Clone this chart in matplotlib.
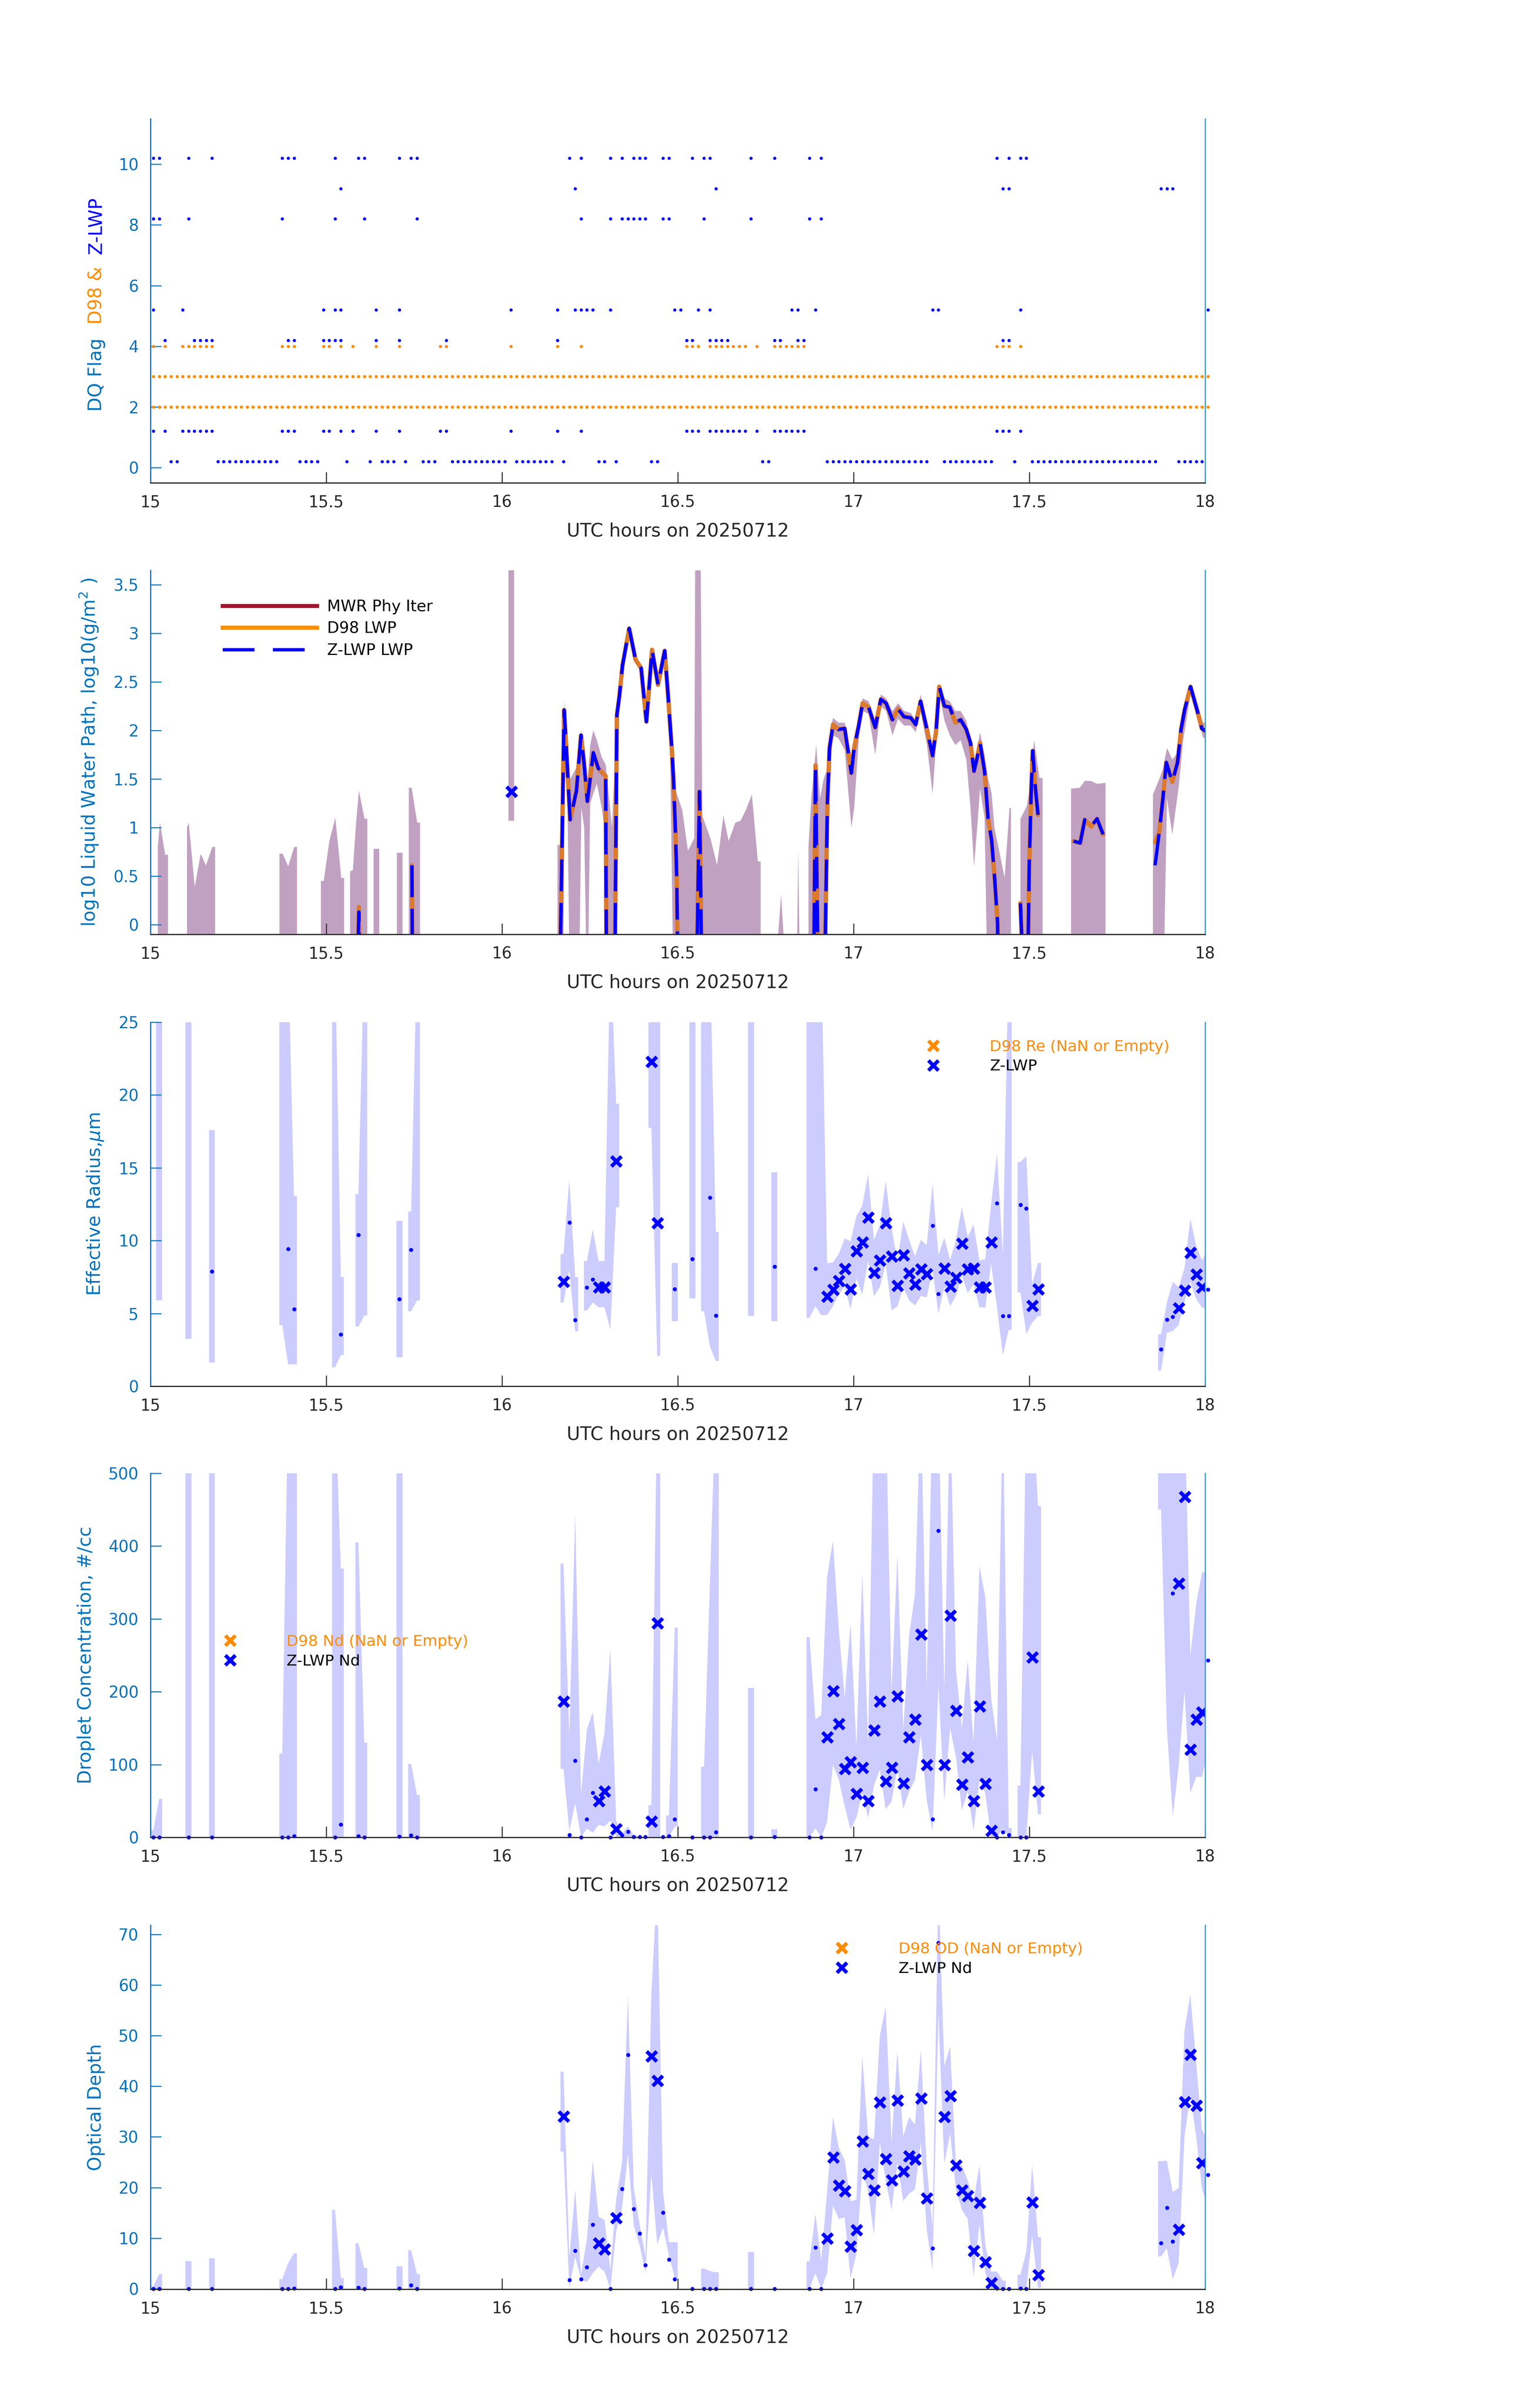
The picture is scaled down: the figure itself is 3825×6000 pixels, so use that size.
import numpy as np
import matplotlib
matplotlib.use("Agg")
import matplotlib.pyplot as plt
from matplotlib.lines import Line2D
from matplotlib.ticker import FuncFormatter

plt.rcParams['font.family'] = ['DejaVu Sans']

nan = np.nan
AXBLUE = '#0072BD'
ORANGE = '#FF8C00'
BLUE = '#0000FF'
DARK = '#262626'

# ---------------- panel 1 : DQ flags (minute index i -> 15 + (i+0.5)/60 h)
n_minutes = 181
zlwp_flag10 = [0, 1, 6, 10, 22, 23, 24, 31, 35, 36, 42, 44, 45, 71, 73, 78, 80, 82, 83, 84,
               87, 88, 92, 94, 95, 102, 106, 112, 114, 144, 146, 148, 149]
zlwp_flag9 = [32, 72, 96, 145, 146, 172, 173, 174]
zlwp_flag8 = [0, 1, 6, 22, 31, 36, 45, 73, 78, 80, 81, 82, 83, 84, 87, 88, 94, 102, 112, 114]
zlwp_flag5 = [0, 5, 29, 31, 32, 38, 42, 61, 69, 72, 73, 74, 75, 78, 89, 90, 93, 95, 109, 110,
              113, 133, 134, 148, 180]
zlwp_flag4 = [2, 7, 8, 9, 10, 23, 24, 29, 30, 31, 32, 38, 42, 50, 69, 91, 92, 95, 96, 97, 98,
              106, 107, 110, 111, 145, 146]
zlwp_flag1 = [0, 2, 5, 6, 7, 8, 9, 10, 22, 23, 24, 29, 30, 32, 34, 38, 42, 49, 50, 61, 69, 73,
              91, 92, 93, 95, 96, 97, 98, 99, 100, 101, 103, 106, 107, 108, 109, 110, 111, 144,
              145, 146, 148]
zlwp_flag0 = [3, 4, 11, 12, 13, 14, 15, 16, 17, 18, 19, 20, 21, 25, 26, 27, 28, 33, 37, 39, 40,
              41, 43, 46, 47, 48, 51, 52, 53, 54, 55, 56, 57, 58, 59, 60, 62, 63, 64, 65, 66, 67,
              68, 70, 76, 77, 79, 85, 86, 104, 105, 115, 116, 117, 118, 119, 120, 121, 122, 123,
              124, 125, 126, 127, 128, 129, 130, 131, 132, 135, 136, 137, 138, 139, 140, 141, 142,
              143, 147, 150, 151, 152, 153, 154, 155, 156, 157, 158, 159, 160, 161, 162, 163, 164,
              165, 166, 167, 168, 169, 170, 171, 175, 176, 177, 178, 179]
d98_flag4 = [0, 2, 5, 6, 7, 8, 9, 10, 22, 23, 24, 29, 30, 32, 34, 38, 42, 49, 50, 61, 69, 73,
             91, 92, 93, 95, 96, 97, 98, 99, 100, 101, 103, 106, 107, 108, 109, 110, 111, 144,
             145, 146, 148]
d98_always = [2, 3]   # flags set at every minute

# ---------------- panel 2 : LWP (hours, log10 g/m2); -1 = below axis
lwp_band_t = [15.021, 15.027, 15.042, 15.050, nan,
              15.104, 15.109, 15.126, 15.143, 15.158, 15.176, 15.184, nan,
              15.367, 15.376, 15.392, 15.409, 15.417, nan,
              15.485, 15.493, 15.509, 15.526, 15.543, 15.551, nan,
              15.568, 15.576, 15.584, 15.593, 15.609, 15.617, nan,
              15.635, 15.651, nan,
              15.701, 15.717, nan,
              15.735, 15.743, 15.759, 15.767, nan,
              16.019, 16.035, nan,
              16.158, 16.167, 16.174, 16.178, 16.186, 16.194, 16.202, 16.212, 16.218, 16.226,
              16.234, 16.243, 16.251, 16.260, 16.270, 16.284, 16.295, 16.305, 16.313, 16.320,
              16.327, nan,
              16.478, 16.489, 16.513, 16.529, 16.547, 16.550, 16.565, 16.570, 16.593, 16.612,
              16.630, 16.645, 16.664, 16.679, 16.694, 16.711, 16.728, 16.736, nan,
              16.786, 16.794, 16.801, nan,
              16.840, 16.843, 16.846, nan,
              16.872, 16.880, 16.894, 16.905, 16.915, 16.926, 16.932, 16.942, 16.957, 16.975,
              16.994, 17.002, 17.015, 17.026, 17.043, 17.062, 17.078, 17.093, 17.111, 17.127,
              17.144, 17.163, 17.177, 17.191, 17.209, 17.225, 17.235, 17.244, 17.259, 17.274,
              17.290, 17.305, 17.321, 17.333, 17.343, 17.352, 17.360, 17.373, 17.383, 17.393,
              17.401, 17.415, 17.430, 17.444, 17.448, nan,
              17.475, 17.493, 17.503, 17.514, 17.529, 17.538, nan,
              17.619, 17.644, 17.658, 17.675, 17.693, 17.717, nan,
              17.852, 17.870, 17.880, 17.892, 17.907, 17.926, 17.938, 17.960, 17.981, 17.994,
              18.006]
lwp_band_lo = [-1, -1, -1, -1, nan,
               -1, -1, -1, -1, -1, -1, -1, nan,
               -1, -1, -1, -1, -1, nan,
               -1, -1, -1, -1, -1, -1, nan,
               -1, -1, -1, -1, -1, -1, nan,
               -1, -1, nan,
               -1, -1, nan,
               -1, -1, -1, -1, nan,
               1.07, 1.07, nan,
               -1, -1, -1, 1.8, 1.4, -1, -1, -1, -1, 1.2,
               1.0, -1, 1.25, 1.35, 1.45, 1.2, 0.9, -1, -1, -1,
               2.1, nan,
               1.9, -1, -1, -1, -1, -1, -1, -1, -1, -1,
               -1, -1, -1, -1, -1, -1, -1, -1, nan,
               -1, -1, -1, nan,
               -1, -1, -1, nan,
               -1, -1, -1, -1, -1, 0.9, 1.6, 1.95, 1.92, 1.8,
               1.0, 1.2, 1.9, 2.2, 2.17, 1.75, 2.25, 2.2, 1.95, 2.12,
               2.05, 2.05, 1.98, 2.2, 1.85, 1.35, 1.85, 2.38, 2.1, 1.95,
               1.85, 1.9, 1.7, 1.2, 0.6, 1.0, 1.4, 1.1, -1, -1,
               -1, -1, -1, -1, -1, nan,
               -1, -1, -1, -1, -1, -1, nan,
               -1, -1, -1, -1, -1, -1, nan,
               -1, -1, -1, 1.3, 0.93, 1.44, 1.9, 2.40, 2.12, 1.93,
               1.90]
lwp_band_hi = [0.80, 1.05, 0.72, 0.72, nan,
               1.0, 1.05, 0.39, 0.73, 0.61, 0.80, 0.80, nan,
               0.73, 0.73, 0.60, 0.80, 0.80, nan,
               0.45, 0.45, 0.86, 1.10, 0.48, 0.48, nan,
               0.55, 0.56, 1.0, 1.38, 1.09, 1.09, nan,
               0.78, 0.78, nan,
               0.74, 0.74, nan,
               1.41, 1.41, 1.05, 1.05, nan,
               4.0, 4.0, nan,
               0.82, 0.82, 1.6, 2.3, 1.8, 1.5, 1.55, 1.62, 1.75, 2.0,
               1.7, 1.45, 1.85, 2.0, 1.9, 1.72, 1.65, 1.3, 1.0, 1.6,
               2.2, nan,
               2.1, 1.44, 1.18, 0.76, 0.89, 4.0, 4.0, 1.12, 0.89, 0.61,
               1.12, 0.86, 1.05, 1.07, 1.18, 1.34, 0.65, 0.65, nan,
               -0.1, 0.31, -0.1, nan,
               -0.1, 0.78, -0.1, nan,
               0.8, 1.3, 1.85, 1.3, 1.5, 1.6, 1.95, 2.13, 2.08, 2.08,
               1.75, 1.9, 2.12, 2.33, 2.3, 2.1, 2.37, 2.33, 2.2, 2.28,
               2.2, 2.18, 2.1, 2.37, 2.07, 1.8, 2.05, 2.48, 2.33, 2.3,
               2.2, 2.2, 2.1, 1.9, 1.65, 1.8, 1.98, 1.75, 1.5, 1.35,
               1.0, 0.75, 0.48, 1.2, 1.2, nan,
               1.09, 1.22, 1.45, 1.90, 1.51, 1.51, nan,
               1.40, 1.41, 1.48, 1.48, 1.45, 1.46, nan,
               1.34, 1.5, 1.6, 1.82, 1.70, 1.79, 2.08, 2.48, 2.25, 2.08,
               2.08]

zlwp_t = [15.586, 15.593, 15.598, nan,
          15.744, 15.746, nan,
          16.163, 16.177, 16.184, 16.194, 16.202, 16.212, 16.225, 16.234, 16.243, 16.251,
          16.260, 16.274, 16.284, 16.295, 16.298, nan,
          16.320, 16.327, 16.334, 16.343, 16.362, 16.380, 16.396, 16.411, 16.427, 16.444,
          16.463, 16.473, 16.483, 16.488, 16.494, 16.4975, 16.502, nan,
          16.552, 16.562, 16.570, nan,
          16.886, 16.892, 16.901, nan,
          16.916, 16.926, 16.932, 16.942, 16.957, 16.975, 16.994, 17.002, 17.015, 17.026,
          17.043, 17.062, 17.078, 17.093, 17.111, 17.127, 17.144, 17.163, 17.177, 17.191,
          17.209, 17.225, 17.235, 17.244, 17.259, 17.274, 17.290, 17.305, 17.321, 17.333,
          17.343, 17.352, 17.360, 17.373, 17.383, 17.393, 17.401, 17.410, 17.414, nan,
          17.475, 17.488, nan,
          17.494, 17.500, 17.506, 17.510, 17.516, 17.525, nan,
          17.626, 17.645, 17.658, 17.676, 17.693, 17.710, nan,
          17.858, 17.870, 17.880, 17.890, 17.907, 17.922, 17.932, 17.942, 17.959, 17.979,
          17.991, 18.006]
zlwp_lwp = [-1, 0.13, -1, nan,
            0.61, -1, nan,
            -1, 2.21, 1.76, 1.08, 1.21, 1.38, 1.95, 1.64, 1.27, 1.50,
            1.77, 1.61, 1.57, 1.53, -1, nan,
            -1, 2.16, 2.35, 2.67, 3.05, 2.73, 2.64, 2.09, 2.83, 2.47,
            2.82, 2.34, 1.82, 1.50, 0.92, 0.45, -1, nan,
            -1, 1.37, -1, nan,
            -1, 1.64, -1, nan,
            -1, 1.27, 1.82, 2.06, 2.01, 2.02, 1.56, 1.82, 2.05, 2.28,
            2.24, 2.03, 2.32, 2.28, 2.11, 2.22, 2.14, 2.13, 2.06, 2.30,
            2.01, 1.74, 1.99, 2.45, 2.25, 2.24, 2.08, 2.11, 2.01, 1.87,
            1.58, 1.72, 1.87, 1.58, 1.09, 0.87, 0.51, 0.02, -1, nan,
            0.22, -1, nan,
            -1, 0.60, 1.41, 1.79, 1.47, 1.13, nan,
            0.86, 0.84, 1.08, 1.01, 1.09, 0.93, nan,
            0.61, 0.95, 1.29, 1.67, 1.47, 1.67, 2.01, 2.21, 2.45, 2.19,
            2.02, 1.98]
d98_lwp = [-1, 0.18, -1, nan,
           0.61, -1, nan,
           -1, 2.21, 1.76, 1.08, 1.21, 1.38, 1.95, 1.66, 1.27, 1.50,
           1.77, 1.61, 1.57, 1.53, -1, nan,
           -1, 2.16, 2.35, 2.67, 3.05, 2.73, 2.64, 2.09, 2.83, 2.47,
           2.82, 2.34, 1.82, 1.50, 0.92, 0.45, -1, nan,
           -1, 1.37, -1, nan,
           -1, 1.64, -1, nan,
           -1, 1.27, 1.82, 2.06, 2.01, 2.02, 1.56, 1.82, 2.05, 2.28,
           2.24, 2.03, 2.32, 2.28, 2.11, 2.22, 2.14, 2.13, 2.06, 2.30,
           2.01, 1.74, 1.99, 2.45, 2.25, 2.24, 2.08, 2.11, 2.01, 1.87,
           1.58, 1.72, 1.87, 1.58, 1.09, 0.87, 0.51, 0.02, -1, nan,
           0.22, -1, nan,
           -1, 0.60, 1.41, 1.79, 1.47, 1.13, nan,
           0.86, 0.84, 1.08, 1.01, 1.09, 0.93, nan,
           0.85, 0.95, 1.29, 1.67, 1.47, 1.67, 2.01, 2.21, 2.45, 2.19,
           2.02, 1.98]
zlwp_single_t = [16.027]
zlwp_single_lwp = [1.37]

# ---------------- panels 3-5 : retrievals at minute index
good_idx = [70, 76, 77, 79, 85, 86, 115, 116, 117, 118, 119, 120, 121, 122, 123, 124, 125, 126,
            127, 128, 129, 130, 131, 132, 135, 136, 137, 138, 139, 140, 141, 142, 143, 150, 151,
            175, 176, 177, 178, 179]

re_good = [7.21, 6.81, 6.81, 15.46, 22.3, 11.22, 6.18, 6.65, 7.25, 8.08, 6.67, 9.28, 9.89, 11.61,
           7.80, 8.67, 11.22, 8.93, 6.91, 9.02, 7.78, 7.01, 8.06, 7.72, 8.12, 6.87, 7.46, 9.81,
           8.06, 8.10, 6.81, 6.81, 9.89, 5.55, 6.67, 5.37, 6.60, 9.18, 7.70, 6.81]
re_other_idx = [10, 23, 24, 32, 35, 42, 44, 71, 72, 74, 75, 89, 92, 95, 96, 106, 113, 133, 134,
                144, 145, 146, 148, 149, 172, 173, 174, 180]
re_other = [7.9, 9.42, 5.31, 3.57, 10.39, 5.98, 9.38, 11.24, 4.54, 6.79, 7.33, 6.67, 8.73, 12.97,
            4.86, 8.23, 8.08, 11.04, 6.34, 12.56, 4.82, 4.82, 12.46, 12.2, 2.55, 4.58, 4.78, 6.65]
re_band_idx = [1, 6, 10, 22, 23, 24, 31, 32, 35, 36, 42, 44, 45, 70, 71, 72, 74, 75, 76, 77, 78,
               79, 85, 86, 89, 92, 94, 95, 96, 102, 106, 112, 113, 114, 115, 116, 117, 118, 119,
               120, 121, 122, 123, 124, 125, 126, 127, 128, 129, 130, 131, 132, 133, 134, 135,
               136, 137, 138, 139, 140, 141, 142, 143, 144, 145, 146, 148, 149, 150, 151, 172,
               173, 174, 175, 176, 177, 178, 179, 180]
re_band_lo = [5.9, 3.26, 1.64, 4.2, 1.5, 1.5, 1.3, 2.15, 4.1, 4.86, 2.0, 5.15, 5.9, 5.75, 8.0,
              3.77, 5.2, 5.75, 5.43, 5.43, 3.89, 12.3, 17.75, 2.1, 4.46, 6.04, 5.15, 2.75, 1.74,
              4.82, 4.46, 4.7, 5.5, 4.88, 4.9, 5.5, 6.3, 6.85, 5.3, 7.4, 6.3, 8.6, 6.2, 6.8, 8.4,
              5.23, 5.49, 6.8, 5.9, 5.55, 6.2, 6.1, 8.0, 5.0, 6.8, 5.5, 6.2, 7.6, 6.4, 7.0, 5.43,
              5.39, 8.43, 5.4, 2.15, 3.87, 6.44, 3.6, 4.37, 4.82, 1.09, 3.67, 3.8, 4.2, 5.8, 7.2,
              6.0, 5.39, 5.35]
re_band_hi = [30, 30, 17.58, 30, 30, 13.05, 30, 7.5, 13.2, 30, 11.35, 12.0, 30, 9.08, 14.2, 7.5,
              8.6, 10.75, 8.6, 8.6, 30, 19.4, 30, 30, 8.47, 30, 30, 30, 10.6, 30, 14.7, 30, 30,
              30, 8.45, 8.5, 9.1, 10.15, 9.95, 11.67, 12.4, 14.55, 10.05, 11.06, 14.1, 10.86,
              8.63, 11.3, 10.05, 8.93, 10.05, 9.68, 13.9, 9.0, 10.2, 8.67, 10.05, 12.3, 10.25,
              11.1, 8.63, 8.73, 12.5, 15.96, 9.0, 30, 15.4, 15.8, 7.0, 8.47, 3.57, 5.75, 7.17,
              6.8, 8.1, 11.5, 9.64, 8.63, 9.5]

nd_good = [187, 50, 63.5, 11.7, 22, 294.5, 138, 201, 156, 94, 103.6, 60, 96, 50, 147, 187, 77,
           96, 194, 74.4, 138, 162, 279, 100, 100, 305, 174, 73, 110, 50, 180, 74, 9.3, 247.6,
           63.5, 349, 468, 120.5, 162, 172]
nd_other_idx = [0, 1, 6, 10, 22, 23, 24, 31, 32, 35, 36, 42, 44, 45, 71, 72, 73, 74, 75, 78, 80,
                81, 82, 83, 84, 87, 88, 89, 92, 94, 95, 96, 102, 106, 112, 113, 114, 133, 134,
                144, 145, 146, 148, 149, 174, 180]
nd_other = [0, 0, 0, 0, 0, 0, 1.6, 0, 17.8, 1.6, 0, 1.2, 2.8, 0, 3.2, 105, 0, 25, 61, 0, 2.8,
            7.7, 0.8, 0.8, 0.8, 0.8, 1.6, 24.7, 0, 0, 0, 7.3, 0, 0.4, 0, 66, 0, 25, 421, 0, 6.9,
            3.2, 0, 0, 335, 243]
nd_band_idx = [0, 1, 6, 10, 22, 23, 24, 31, 32, 35, 36, 42, 44, 45, 70, 71, 72, 73, 74, 75, 76,
               77, 78, 79, 80, 81, 82, 85, 86, 88, 89, 94, 95, 96, 102, 106, 112, 113, 114, 115,
               116, 117, 118, 119, 120, 121, 122, 123, 124, 125, 126, 127, 128, 129, 130, 131,
               132, 133, 134, 135, 136, 137, 138, 139, 140, 141, 142, 143, 144, 145, 146, 148,
               149, 150, 151, 172, 173, 174, 175, 176, 177, 178, 179, 180]
nd_band_lo = [0, 0, 0, 0, 0, 0, 0, 0, 0, 0, 0, 0, 0, 0, 94, 8.5, 47, 0, 12, 6.5, 17, 15, 23, 0,
              0, 0, 0, 0, 0, 0, 15, 0, 0, 0, 0, 0, 0, 12.5, 0, 21, 99.5, 79, 43, 10.5, 27, 61, 27,
              71, 93, 39, 49, 95, 39, 63, 79, 140, 51, 8.5, 209, 51, 150, 110, 37, 63, 9, 80, 60,
              0, 0, 12, 0, 0, 0, 119, 31.5, 450, 150, 29, 97, 200, 61, 83, 83, 118]
nd_band_hi = [10, 53, 600, 600, 115, 600, 600, 600, 369, 405, 130, 600, 101, 58, 376, 140, 443,
              60, 148, 172, 101, 143, 259, 23, 5, 15, 3, 44, 600, 30, 288, 97, 350, 600, 205, 11,
              275, 162, 168, 358, 407, 285, 192, 294, 124, 363, 130, 600, 600, 600, 200, 387,
              148, 277, 334, 600, 205, 600, 600, 201, 600, 230, 150, 243, 130, 372, 330, 192,
              133, 600, 13, 71, 600, 600, 455, 600, 600, 600, 600, 600, 249, 320, 364, 364]

od_good = [34.05, 9.06, 7.84, 14.0, 46.0, 41.1, 10.0, 26.0, 20.45, 19.35, 8.37, 11.68, 29.17,
           22.72, 19.47, 36.84, 25.68, 21.44, 37.25, 23.24, 26.2, 25.6, 37.65, 17.9, 34.0, 38.1,
           24.4, 19.5, 18.4, 7.5, 17.0, 5.3, 1.16, 17.14, 2.8, 11.74, 36.9, 46.25, 36.2, 24.87]
od_other_idx = [0, 1, 6, 10, 22, 23, 24, 31, 32, 35, 36, 42, 44, 45, 71, 72, 73, 74, 75, 78, 80,
                81, 82, 83, 84, 87, 88, 89, 92, 94, 95, 96, 102, 106, 112, 113, 114, 133, 134,
                144, 145, 146, 148, 149, 172, 173, 174, 180]
od_other = [0, 0, 0, 0, 0, 0, 0.1, 0, 0.35, 0.25, 0, 0.1, 0.7, 0, 1.7, 7.55, 1.86, 4.3, 12.7, 0,
            19.7, 46.2, 15.8, 10.9, 4.7, 15.05, 5.75, 1.86, 0, 0, 0, 0, 0, 0, 0, 8.13, 0, 8.0,
            68.3, 0.1, 0, 0, 0.1, 0, 9.06, 16.0, 9.35, 22.5]
od_band_idx = [0, 1, 6, 10, 22, 23, 24, 31, 32, 35, 36, 42, 44, 45, 70, 71, 72, 73, 74, 75, 76,
               77, 78, 79, 80, 81, 82, 83, 84, 85, 86, 87, 88, 89, 94, 95, 96, 102, 112, 113, 114,
               115, 116, 117, 118, 119, 120, 121, 122, 123, 124, 125, 126, 127, 128, 129, 130,
               131, 132, 133, 134, 135, 136, 137, 138, 139, 140, 141, 142, 143, 144, 145, 148,
               149, 150, 151, 172, 173, 174, 175, 176, 177, 178, 179, 180]
od_band_lo = [0, 0, 0, 0, 0, 0, 0, 0, 0, 0, 0, 0, 0, 0, 27.1, 0.2, 6.3, 1.9, 1.3, 3.1, 4.4, 3.4,
              0, 11.3, 15.9, 26.6, 12.55, 8.6, 3.1, 22.8, 8.8, 12.1, 6.6, 2.2, 0, 0, 0, 0, 0, 3.1,
              0, 3.1, 16.4, 13.8, 14.1, 2.1, 6.9, 23, 19.35, 10.6, 28.9, 21.4, 15.6, 24.9, 17.3,
              18.8, 19.6, 28.9, 11.8, 3.8, 54.4, 24.75, 30.7, 19.6, 15.6, 13.8, 2.5, 12.7, 3.1, 0,
              0, 0, 0, 0, 10.6, 0.2, 6.4, 8.0, 1.9, 5.1, 30.1, 38.2, 30.1, 19.6, 16.2]
od_band_hi = [0.5, 2.9, 5.5, 6.0, 1.9, 5.1, 7.0, 15.6, 2.1, 9.0, 4.1, 4.4, 7.6, 2.9, 42.9, 6.3,
              19.5, 2.8, 9.8, 25.3, 14.2, 13.65, 3.8, 17.7, 24.9, 57.7, 19.9, 12.7, 6.4, 58, 80,
              19.1, 9.2, 9.2, 4.0, 3.5, 3.25, 7.3, 5.4, 14.7, 5.7, 19.1, 33.9, 27.8, 25.4, 17.3,
              17.6, 45.9, 30.1, 29.5, 49.9, 55.7, 28.9, 46.9, 30.1, 33.9, 32.4, 47.1, 24.3, 12,
              80, 44, 47.8, 24.4, 24.4, 21.4, 17.3, 24.4, 8.7, 3.4, 3.4, 1.6, 2.8, 7.3, 24.4,
              10.2, 25.2, 25.3, 19.1, 19.9, 51.0, 58.1, 44.6, 31.3, 29.5]


def minute_time(idx):
    return 15 + (np.asarray(idx, dtype=float) + 0.5) / 60.0


def band_xy(idx, lo, hi):
    # one-minute wide steps at the ends of a run, straight lines between minutes inside
    h = 0.5 / 60.0
    xs, ls, hs = [], [], []
    prev = None
    for i, a, b in zip(idx, lo, hi):
        t = 15 + (i + 0.5) / 60.0
        if prev is None or i != prev[0] + 1:
            if prev is not None:
                xs += [prev[1] + h, nan]; ls += [prev[2], nan]; hs += [prev[3], nan]
            xs.append(t - h); ls.append(a); hs.append(b)
        xs.append(t); ls.append(a); hs.append(b)
        prev = (i, t, a, b)
    xs.append(prev[1] + h); ls.append(prev[2]); hs.append(prev[3])
    return np.array(xs), np.array(ls), np.array(hs)


def style(ax):
    ax.set_xlim(15, 18)
    ax.set_xticks([15, 15.5, 16, 16.5, 17, 17.5, 18])
    ax.set_xticklabels(['15', '15.5', '16', '16.5', '17', '17.5', '18'])
    ax.spines['top'].set_visible(False)
    ax.spines['left'].set_color(AXBLUE)
    ax.spines['right'].set_color('#3A9AD9')
    ax.spines['bottom'].set_color(DARK)
    for s in ax.spines.values():
        s.set_linewidth(0.7)
    ax.tick_params(axis='x', direction='in', length=6.5, width=0.6, colors=DARK,
                   labelsize=9.5, pad=7, top=False)
    ax.tick_params(axis='y', direction='in', length=6.5, width=0.6, colors=AXBLUE,
                   labelsize=9.5, pad=7, right=False)
    ax.yaxis.set_major_formatter(FuncFormatter(lambda v, p: '%g' % v))
    ax.set_xlabel('UTC hours on 20250712', fontsize=11, color=DARK, labelpad=7)


def marker_legend(ax, label1, label2, x0, ytop):
    hs = [Line2D([], [], ls='none', marker='x', ms=6, mew=2.2, color=ORANGE),
          Line2D([], [], ls='none', marker='x', ms=6, mew=2.2, color=BLUE)]
    leg = ax.legend(hs, [label1, label2], loc='upper left', bbox_to_anchor=(x0, ytop),
                    frameon=False, fontsize=9.2, borderpad=0, borderaxespad=0,
                    handlelength=5, handletextpad=1.2, labelspacing=0.33)
    leg.get_texts()[0].set_color(ORANGE)
    leg.get_texts()[1].set_color('black')


fig = plt.figure(figsize=(12.75, 20), dpi=300)
L, W, H = 0.098, 0.687, 0.1512
bottoms = [0.7995, 0.612, 0.4243, 0.237, 0.0493]
axs = [fig.add_axes([L, b, W, H]) for b in bottoms]
for ax in axs:
    style(ax)

# ---- panel 1
ax = axs[0]
t_all = minute_time(np.arange(n_minutes))
for lev in d98_always:
    ax.plot(t_all, np.full(n_minutes, lev), 'o', ms=1.9, mew=0, color=ORANGE, clip_on=False)
ax.plot(minute_time(d98_flag4), np.full(len(d98_flag4), 4), 'o', ms=1.9, mew=0, color=ORANGE,
        clip_on=False)
for lev, idx in [(10, zlwp_flag10), (9, zlwp_flag9), (8, zlwp_flag8), (5, zlwp_flag5),
                 (4, zlwp_flag4), (1, zlwp_flag1), (0, zlwp_flag0)]:
    ax.plot(minute_time(idx), np.full(len(idx), lev + 0.2), 'o', ms=1.9, mew=0, color=BLUE,
            clip_on=False)
ax.set_ylim(-0.5, 11.5)
ax.set_yticks([0, 2, 4, 6, 8, 10])
for txt, col, yb in [('DQ Flag', AXBLUE, 0.196), ('D98 &', ORANGE, 0.435), ('Z-LWP', BLUE, 0.628)]:
    ax.text(-0.051, yb, txt, color=col, fontsize=11, rotation=90, ha='center', va='bottom',
            transform=ax.transAxes)

# ---- panel 2
ax = axs[1]
ax.fill_between(lwp_band_t, lwp_band_lo, lwp_band_hi, color='#C1A1C1', lw=0)
ax.plot(zlwp_t, d98_lwp, color='#DB7A2C', lw=2.6, solid_joinstyle='round',
        solid_capstyle='round')
ax.plot(zlwp_t, zlwp_lwp, color=BLUE, lw=2.0, ls=(0, (9.5, 3.5)))
ax.plot(zlwp_single_t, zlwp_single_lwp, 'x', color=BLUE, ms=6, mew=2.2)
ax.set_ylim(-0.1, 3.65)
ax.set_yticks([0, 0.5, 1, 1.5, 2, 2.5, 3, 3.5])
ax.set_ylabel('log10 Liquid Water Path, log10(g/m$^2$ )', fontsize=11, color=AXBLUE, labelpad=8)
hs = [Line2D([], [], color='#A2142F', lw=2.4),
      Line2D([], [], color=ORANGE, lw=2.4),
      Line2D([], [], color=BLUE, lw=2.0, ls=(0, (9.5, 5.5)))]
ax.legend(hs, ['MWR Phy Iter', 'D98 LWP', 'Z-LWP LWP'], loc='upper left',
          bbox_to_anchor=(0.0685, 0.92), frameon=False, fontsize=9.4, borderpad=0,
          borderaxespad=0, handlelength=6.0, handletextpad=0.65, labelspacing=0.42)

# ---- panels 3-5
panels = [
    (axs[2], re_band_idx, re_band_lo, re_band_hi, re_other_idx, re_other, re_good,
     (0, 25), [0, 5, 10, 15, 20, 25], 'Effective Radius,$\\mu$m',
     ('D98 Re (NaN or Empty)', 'Z-LWP', 0.7055, 0.952)),
    (axs[3], nd_band_idx, nd_band_lo, nd_band_hi, nd_other_idx, nd_other, nd_good,
     (0, 500), [0, 100, 200, 300, 400, 500], 'Droplet Concentration, #/cc',
     ('D98 Nd (NaN or Empty)', 'Z-LWP Nd', 0.0388, 0.557)),
    (axs[4], od_band_idx, od_band_lo, od_band_hi, od_other_idx, od_other, od_good,
     (-0.1, 71.8), [0, 10, 20, 30, 40, 50, 60, 70], 'Optical Depth',
     ('D98 OD (NaN or Empty)', 'Z-LWP Nd', 0.619, 0.954)),
]
for ax, bi, blo, bhi, oi, ov, gv, ylim, yt, ylab, leg in panels:
    bx, bl, bh = band_xy(bi, blo, bhi)
    ax.fill_between(bx, bl, bh, color='#CCCCFF', lw=0)
    ax.plot(minute_time(oi), ov, 'o', ms=2.4, mew=0, color=BLUE, clip_on=False)
    ax.plot(minute_time(good_idx), gv, 'x', ms=6, mew=2.2, color=BLUE)
    ax.set_ylim(*ylim)
    ax.set_yticks(yt)
    ax.set_ylabel(ylab, fontsize=11, color=AXBLUE, labelpad=8)
    marker_legend(ax, leg[0], leg[1], leg[2], leg[3])

fig.savefig('out.png', dpi=300)
